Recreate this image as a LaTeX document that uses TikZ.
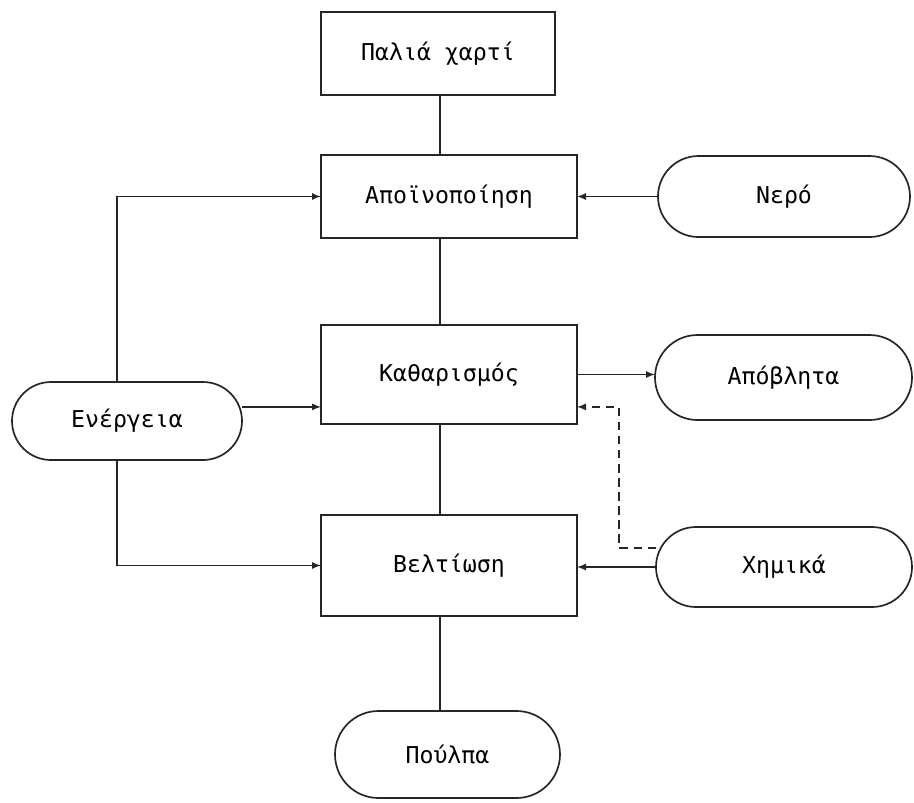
\documentclass[tikz,border=0pt]{standalone}
\usepackage{fontspec}
\newfontfamily\schreib{DejaVu Sans Mono}
\usetikzlibrary{arrows, shapes, calc}

\begin{document}
\begin{tikzpicture}[>=latex, line width=1.2pt, inner sep=0pt, outer sep=0pt,
	kasten/.style={rectangle, draw=black!85, minimum width=6.4cm, font=\schreib\fontsize{16.5}{19}\selectfont},
	rund/.style={rounded rectangle, draw=black!85, minimum height=2cm, font=\schreib\fontsize{16.5}{19}\selectfont},
	pfeil/.style={->, draw=black!85, line width=1.2pt},
	linie/.style={-, draw=black!85, line width=1.2pt},
	strich/.style={->, draw=black!85, line width=1.2pt, dash pattern=on 6pt off 4pt}]
	
	\useasboundingbox (0,0) rectangle (22.85,-20.05);
	
	\node[kasten, minimum width=5.85cm, minimum height=2.075cm](paper) at (10.95,-1.3375) {Παλιά χαρτί};
	\node[kasten, minimum height=2.075cm](deink) at (11.225,-4.9125) {Αποϊνοποίηση};
	\node[kasten, minimum height=2.475cm](clean) at (11.225,-9.3625) {Καθαρισμός};
	\node[kasten, minimum height=2.525cm](refine) at (11.225,-14.1375) {Βελτίωση};
	
	\node[rund, minimum width=5.625cm, minimum height=2.175cm](pulp) at (11.1875,-18.8625) {Πούλπα};
	\node[rund, minimum width=5.75cm, minimum height=1.95cm](energy) at (3.175,-10.525) {Ενέργεια};
	\node[rund, minimum width=6.3cm, minimum height=2.025cm](water) at (19.6,-4.9125) {Νερό};
	\node[rund, minimum width=6.425cm, minimum height=2.125cm](waste) at (19.5875,-9.4375) {Απόβλητα};
	\node[rund, minimum width=6.4cm](chem) at (19.6,-14.175) {Χημικά};
	
	\coordinate (axis) at (11.0,0);
	
	% senkrechte Linien
	\draw[linie] (paper.south -| axis) -- (deink.north -| axis);
	\draw[linie] (deink.south -| axis) -- (clean.north -| axis);
	\draw[linie] (clean.south -| axis) -- (refine.north -| axis);
	\draw[linie] (refine.south -| axis) -- (pulp.north -| axis);
	
	% Pfeile
	\draw[pfeil] ([xshift=-0.25cm]energy.north) |- (deink.west);
	\draw[pfeil] ([xshift=-0.25cm]energy.south) |- (refine.west);
	\draw[pfeil] ([yshift=-0.81cm]clean.west -| energy.east) -- ([yshift=-0.81cm]clean.west);
	\draw[pfeil] (water.west) -- (deink.east);
	\draw[pfeil] (clean.east) -- (clean.east -| waste.west);
	\draw[pfeil] (chem.west) -- (chem.west -| refine.east);
	\draw[strich] ([yshift=0.475cm]chem.west) -- ++(-0.925,0) |- ([yshift=-0.81cm]clean.east);

\end{tikzpicture}
\end{document}
